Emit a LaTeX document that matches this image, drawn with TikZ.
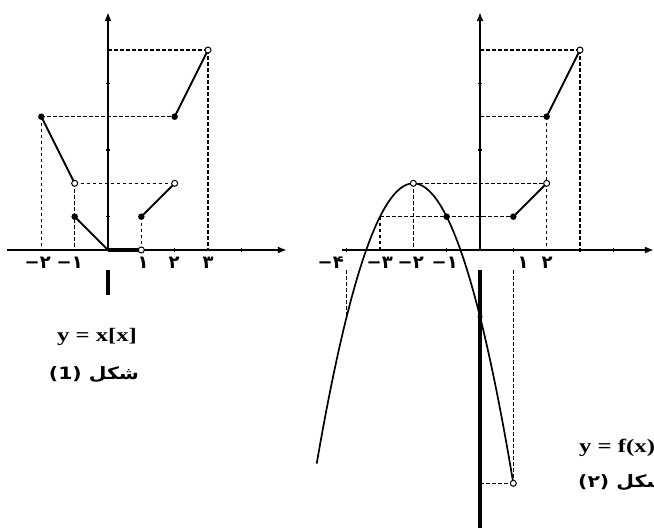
\documentclass[tikz,border=0pt]{standalone}
\usepackage{fontspec}
\setmainfont{Liberation Serif}
\newfontfamily\arab[Script=Arabic]{DejaVu Sans}
\newfontfamily\arabnum{DejaVu Sans}
\TeXXeTstate=1
\usetikzlibrary{arrows.meta}
\begin{document}
\begin{tikzpicture}[x=1pt,y=-1pt,
 axis/.style={line width=1.8pt},
 lowaxis/.style={line width=3.5pt},
 guide/.style={line width=1.2pt, dash pattern=on 3.5pt off 2.5pt},
 graphline/.style={line width=2pt},
 fillpt/.style={circle, fill=black, inner sep=0pt, minimum size=6.5pt},
 openpt/.style={circle, draw=black, fill=white, line width=1pt, inner sep=0pt, minimum size=6pt},
 tickmark/.style={line width=1.6pt},
 xlab/.style={font=\arabnum\bfseries\fontsize{18}{18}\selectfont, inner sep=0pt},
 eqlab/.style={font=\bfseries\fontsize{19}{19}\selectfont, inner sep=0pt},
 figlab/.style={font=\arab\bfseries\fontsize{17}{17}\selectfont, inner sep=0pt},
 tip/.style={-{Latex[length=9pt,width=7pt]}},
]
\useasboundingbox (0,0) rectangle (654,528);
\clip (0,0) rectangle (654,528);

% ---------------- Figure 1 ----------------
\begin{scope}[shift={(108,250)}, x=33.33pt, y=33.33pt]
 \coordinate (L-o) at (0,0);
 \coordinate (L-xs) at (-3.03,0);
 \coordinate (L-xe) at (5.37,0);
 \coordinate (L-ye) at (0,7.14);
 \coordinate (L-yb1) at (0,-0.6);
 \coordinate (L-yb2) at (0,-1.35);
 % guides
 \draw[guide] (-2,4) -- (2,4);
 \draw[guide] (-2,4) -- (-2,0);
 \draw[guide] (-1,2) -- (2,2);
 \draw[guide] (-1,2) -- (-1,0);
 \draw[guide] (1,1) -- (1,0);
 \draw[guide] (0,6) -- (3,6);
 \draw[guide] (3,6) -- (3,0);
 % axes
 \draw[axis,tip] (L-xs) -- (L-xe);
 \draw[axis,tip] (L-o) -- (L-ye);
 \draw[lowaxis] (L-yb1) -- (L-yb2);
 \foreach \t in {1,3,5} \draw[tickmark] (-0.07,\t) -- (0.07,\t);
 \foreach \t in {2,4} \draw[tickmark] (\t,-0.06) -- (\t,0.06);
 % graph
 \draw[graphline] (-2,4) -- (-1,2);
 \draw[graphline] (-1,1) -- (0,0);
 \draw[line width=4.5pt] (0,0) -- (1,0);
 \draw[graphline] (1,1) -- (2,2);
 \draw[graphline] (2,4) -- (3,6);
 \node[fillpt] (L-p1) at (-2,4) {};
 \node[openpt] (L-p2) at (-1,2) {};
 \node[fillpt] (L-p3) at (-1,1) {};
 \node[openpt] (L-p4) at (1,0) {};
 \node[fillpt] (L-p5) at (1,1) {};
 \node[openpt] (L-p6) at (2,2) {};
 \node[fillpt] (L-p7) at (2,4) {};
 \node[openpt] (L-p8) at (3,6) {};
\end{scope}
\node[xlab, anchor=east] (L-lm2) at (51,263) {−٢};
\node[xlab, anchor=east] (L-lm1) at (83,263) {−١};
\node[xlab] (L-l1) at (143,263) {١};
\node[xlab] (L-l2) at (174,263) {٢};
\node[xlab] (L-l3) at (208,263) {٣};
\node[eqlab] (L-eq) at (97,337) {\scalebox{1.3}[1]{y = x[x]}};
\node[figlab] (L-fig) at (94,375) {\scalebox{1.2}[1]{(1) \beginR شكل\endR}};

% ---------------- Figure 2 ----------------
\begin{scope}[shift={(480,250)}, x=33.33pt, y=33.33pt]
 \coordinate (R-o) at (0,0);
 \coordinate (R-xs) at (-4.14,0);
 \coordinate (R-xe) at (5.22,0);
 \coordinate (R-ye) at (0,7.14);
 \coordinate (R-yb1) at (0,-0.6);
 \coordinate (R-yb2) at (0,-8.4);
 % guides
 \draw[guide] (0,6) -- (3,6);
 \draw[guide] (3,6) -- (3,0);
 \draw[guide] (0,4) -- (2,4);
 \draw[guide] (2,4) -- (2,0);
 \draw[guide] (-2,2) -- (2,2);
 \draw[guide] (-2,2) -- (-2,0);
 \draw[guide] (-3,1) -- (1,1);
 \draw[guide] (-3,1) -- (-3,0);
 \draw[guide] (-4,-0.6) -- (-4,-2);
 \draw[guide] (1,-0.6) -- (1,-7);
 \draw[guide] (0,-7) -- (1,-7);
 % axes
 \draw[axis,tip] (R-xs) -- (R-xe);
 \draw[axis,tip] (R-o) -- (R-ye);
 \draw[lowaxis] (R-yb1) -- (R-yb2);
 \foreach \t in {1,3,5} \draw[tickmark] (-0.07,\t) -- (0.07,\t);
 \foreach \t in {-4,-1,1,3,4} \draw[tickmark] (\t,-0.06) -- (\t,0.06);
 % graph
 \draw[line width=1.7pt, domain=-4.9:1, samples=80, smooth] plot (\x,{2-(\x+2)^2});
 \draw[graphline] (1,1) -- (2,2);
 \draw[graphline] (2,4) -- (3,6);
 \node[openpt] (R-p1) at (-2,2) {};
 \node[fillpt] (R-p2) at (-1,1) {};
 \node[fillpt] (R-p3) at (1,1) {};
 \node[openpt] (R-p4) at (2,2) {};
 \node[fillpt] (R-p5) at (2,4) {};
 \node[openpt] (R-p6) at (3,6) {};
 \node[fillpt, minimum size=5pt] (R-p7) at (0,-2) {};
 \node[openpt] (R-p8) at (1,-7) {};
\end{scope}
\node[xlab, anchor=east] (R-lm4) at (344,263) {−۴};
\node[xlab, anchor=east] (R-lm3) at (393,263) {−٣};
\node[xlab, anchor=east] (R-lm2) at (424,263) {−٢};
\node[xlab, anchor=east] (R-lm1) at (458,263) {−١};
\node[xlab] (R-l1) at (523,263) {١};
\node[xlab] (R-l2) at (547,263) {٢};
\node[eqlab, anchor=west] (R-eq) at (579,448) {\scalebox{1.3}[1]{y = f(x)}};
\node[figlab, anchor=west] (R-fig) at (578,483) {\scalebox{1.2}[1]{(٢) \beginR شكل\endR}};
\end{tikzpicture}
\end{document}
